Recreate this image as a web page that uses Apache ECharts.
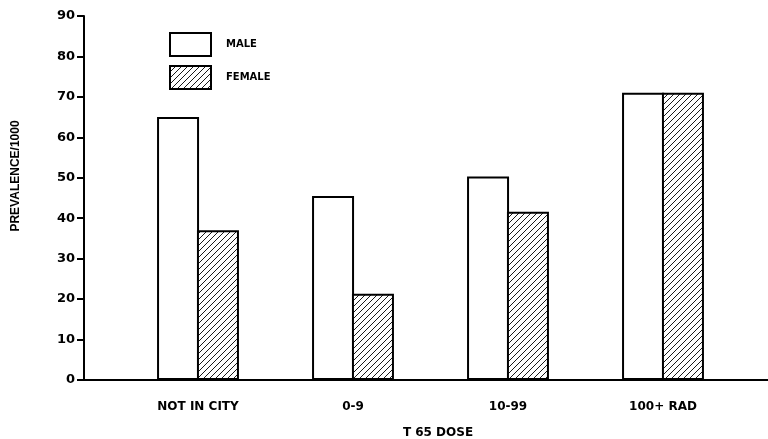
<!DOCTYPE html>
<html>
<head>
<meta charset="utf-8">
<script src="https://cdn.jsdelivr.net/npm/echarts@6/dist/echarts.min.js"></script>
<style>html,body{margin:0;padding:0;background:#fff}#c{width:768px;height:439px}</style>
</head>
<body>
<div id="c"></div>
<script>
const categories = ['NOT IN CITY', '0-9', '10-99', '100+ RAD'];
const maleValues = [65, 45.5, 50.3, 71];
const femaleValues = [37, 21.3, 41.6, 71];
const yTicks = { min: 0, max: 90, interval: 10 };
const seriesNames = ['MALE', 'FEMALE'];
const yTitle = 'PREVALENCE/1000';
const xTitle = 'T 65 DOSE';

function hatch() {
  const s = 6;
  const cv = document.createElement('canvas');
  cv.width = s; cv.height = s;
  const g = cv.getContext('2d');
  g.fillStyle = '#fff'; g.fillRect(0, 0, s, s);
  g.strokeStyle = '#000'; g.lineWidth = 0.9;
  g.beginPath();
  g.moveTo(-1, s + 1); g.lineTo(s + 1, -1);
  g.moveTo(-1, 1); g.lineTo(1, -1);
  g.moveTo(s - 1, s + 1); g.lineTo(s + 1, s - 1);
  g.stroke();
  return cv;
}

const chart = echarts.init(document.getElementById('c'), null, { renderer: 'canvas' });
const bold = { fontFamily: 'DejaVu Sans', fontWeight: 'bold', color: '#000' };
chart.setOption({
  animation: false,
  backgroundColor: '#fff',
  grid: [
    { left: 84, right: 0, top: 16, bottom: 59, outerBoundsMode: 'none', containLabel: false },
    { left: 120.5, width: 620, top: 16, bottom: 59, outerBoundsMode: 'none', containLabel: false }
  ],
  legend: {
    orient: 'vertical', left: 164, top: 27, itemWidth: 41, itemHeight: 23, itemGap: 8,
    icon: 'rect',
    data: seriesNames,
    textStyle: Object.assign({}, bold, { fontSize: 10, padding: [0, 0, 0, 10] })
  },
  xAxis: [
    { gridIndex: 0, type: 'value', min: 0, max: 1,
      axisLine: { show: true, onZero: false, lineStyle: { color: '#000', width: 2 } },
      axisTick: { show: false }, axisLabel: { show: false }, splitLine: { show: false } },
    { gridIndex: 1, type: 'category', data: categories,
      axisLine: { show: false }, axisTick: { show: false },
      axisLabel: Object.assign({}, bold, { fontSize: 12, margin: 21 }),
      name: xTitle, nameLocation: 'middle', nameGap: 47,
      nameTextStyle: Object.assign({}, bold, { fontSize: 12, padding: [0, 0, 0, 15] }) }
  ],
  yAxis: [
    { gridIndex: 0, type: 'value', min: yTicks.min, max: yTicks.max, interval: yTicks.interval,
      axisLine: { show: true, lineStyle: { color: '#000', width: 2 } },
      axisTick: { show: true, inside: false, length: 7, lineStyle: { color: '#000', width: 2 } },
      axisLabel: Object.assign({}, bold, { fontSize: 13, margin: 9 }),
      splitLine: { show: false } },
    { gridIndex: 1, type: 'value', min: yTicks.min, max: yTicks.max, show: false }
  ],
  graphic: [
    { type: 'text', x: 16, y: 176, rotation: Math.PI / 2,
      style: { text: yTitle, fontFamily: 'Liberation Sans', fontWeight: 'bold', fontSize: 12,
               fill: '#000', align: 'center', verticalAlign: 'middle' } }
  ],
  series: [
    { name: seriesNames[0], type: 'bar', xAxisIndex: 1, yAxisIndex: 1, data: maleValues,
      barWidth: 42, barGap: '-5%',
      itemStyle: { color: '#fff', borderColor: '#000', borderWidth: 2 } },
    { name: seriesNames[1], type: 'bar', xAxisIndex: 1, yAxisIndex: 1, data: femaleValues,
      barWidth: 42, barGap: '-5%',
      itemStyle: { color: { image: hatch(), repeat: 'repeat' }, borderColor: '#000', borderWidth: 2 } }
  ]
});
</script>
</body>
</html>
